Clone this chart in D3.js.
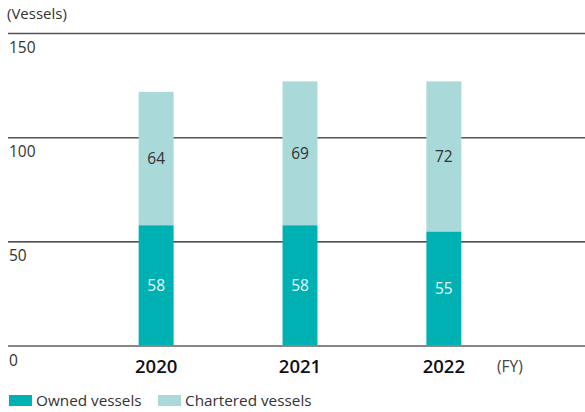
<!DOCTYPE html>
<html><head><meta charset="utf-8">
<script src="https://cdn.jsdelivr.net/npm/d3@7"></script>
<style>body{margin:0;background:#fff}svg{display:block}text{font-family:"Open Sans",sans-serif}</style>
</head><body>
<script>
const years = ["2020","2021","2022"];
const owned = [58,58,55];
const chartered = [64,69,72];
const yTicks = [0,50,100,150];
const seriesNames = ["Owned vessels","Chartered vessels"];
const colors = ["#00b1b4","#a9d9d9"];

const W=585,H=412;
const svg=d3.select("body").append("svg").attr("width",W).attr("height",H);
const y=d3.scaleLinear().domain([0,150]).range([346,33.5]);
const x=d3.scaleBand().domain(years).range([84,516]).paddingInner(0.757).paddingOuter(0.38);

const gridStyle={0:["#888",2],50:["#1a1a1a",1.2],100:["#555",1.5],150:["#555",1.5]};
svg.append("g").selectAll("line").data(yTicks).join("line")
  .attr("x1",8).attr("x2",W).attr("y1",d=>y(d)).attr("y2",d=>y(d))
  .attr("stroke",d=>gridStyle[d][0]).attr("stroke-width",d=>gridStyle[d][1]);
svg.append("g").selectAll("text").data(yTicks).join("text")
  .attr("x",9).attr("y",d=>y(d)+19.5).attr("font-size",15.5).attr("fill","#333").text(d=>d);
svg.append("text").attr("x",7).attr("y",19).attr("font-size",15).attr("fill","#333").text("(Vessels)");

const data=years.map((yr,i)=>({yr,owned:owned[i],chartered:chartered[i]}));
const stack=d3.stack().keys(["owned","chartered"])(data);
const g=svg.append("g");
stack.forEach((s,si)=>{
  g.selectAll(".b"+si).data(s).join("rect")
    .attr("x",d=>x(d.data.yr)).attr("width",x.bandwidth())
    .attr("y",d=>y(d[1])).attr("height",d=>y(d[0])-y(d[1]))
    .attr("fill",colors[si]);
  g.selectAll(".t"+si).data(s).join("text")
    .attr("x",d=>x(d.data.yr)+x.bandwidth()/2).attr("y",d=>(y(d[0])+y(d[1]))/2+5.5)
    .attr("text-anchor","middle").attr("font-size",15.5)
    .attr("fill",si===0?"#e6f7f7":"#333").text(d=>d[1]-d[0]);
});
svg.append("line").attr("x1",8).attr("x2",W).attr("y1",y(0)).attr("y2",y(0)).attr("stroke","#888").attr("stroke-width",2);

svg.append("g").selectAll("text").data(years).join("text")
  .attr("x",d=>x(d)+x.bandwidth()/2).attr("y",372.5).attr("text-anchor","middle")
  .attr("font-size",18.5).attr("font-weight",600).attr("fill","#111").text(d=>d);
svg.append("text").attr("x",497).attr("y",372).attr("font-size",15.5).attr("fill","#444").text("(FY)");

const lx=[9,158];
seriesNames.forEach((n,i)=>{
  svg.append("rect").attr("x",lx[i]).attr("y",395).attr("width",23).attr("height",11).attr("fill",colors[i]);
  svg.append("text").attr("x",lx[i]+27).attr("y",406).attr("font-size",15.3).attr("fill","#333").text(n);
});
</script>
</body></html>
